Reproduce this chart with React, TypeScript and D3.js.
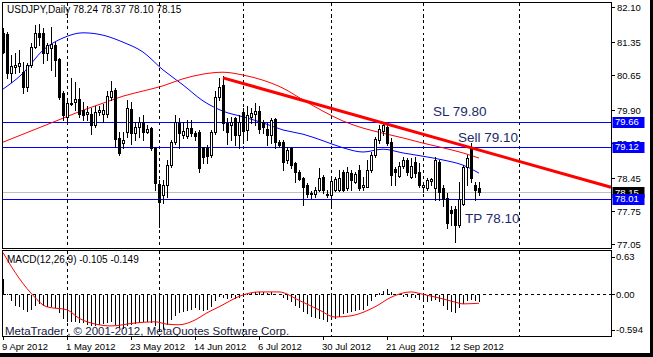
import React from "react";
import * as d3 from "d3";

// ---------- DATA ----------
const opens = [
  81.54, 81.52, 80.69, 80.83, 80.84, 80.72, 80.40, 80.86, 81.24, 81.54,
  81.54, 81.13, 81.22, 81.29, 80.99, 80.26, 79.76, 80.03, 80.08, 80.15,
  79.91, 79.83, 79.83, 79.59, 79.87, 79.83, 79.83, 80.18, 80.33, 79.30,
  79.20, 79.44, 79.92, 79.42, 79.55, 79.66, 79.44, 79.53, 79.09, 78.33,
  78.09, 78.31, 78.73, 79.23, 79.62, 79.37, 79.35, 79.53, 79.42, 79.44,
  79.11, 79.09, 78.95, 79.44, 80.19, 80.44, 79.62, 79.59, 79.73, 79.37,
  79.87, 79.48, 79.76, 79.82, 79.89, 79.66, 79.51, 79.37, 79.71, 79.23,
  79.23, 78.83, 79.09, 78.78, 78.59, 78.45, 78.31, 78.14, 78.11, 78.20,
  78.47, 78.11, 78.09, 78.21, 78.20, 78.59, 78.24, 78.57, 78.38, 78.63,
  78.27, 78.27, 78.63, 78.95, 79.27, 79.45, 79.55, 79.23, 78.64, 78.50,
  78.71, 78.85, 78.48, 78.80, 78.59, 78.27, 78.24, 78.39, 78.24, 78.80,
  78.24, 78.02, 77.77, 77.80, 77.45, 77.91, 78.70, 79.07, 78.31, 78.24,
];
const highs = [
  81.66, 81.56, 81.08, 81.11, 81.18, 80.93, 80.90, 81.33, 81.72, 81.74,
  81.65, 81.34, 81.68, 81.36, 81.01, 80.30, 80.12, 80.58, 80.51, 80.37,
  80.08, 79.98, 79.94, 79.98, 79.98, 80.03, 80.30, 80.52, 80.37, 79.44,
  79.44, 80.12, 80.08, 79.66, 79.76, 79.80, 79.59, 79.55, 79.12, 78.41,
  78.41, 78.84, 79.27, 79.80, 79.73, 79.66, 79.69, 79.69, 79.46, 79.48,
  79.12, 79.15, 79.48, 80.30, 80.58, 80.62, 79.73, 79.76, 79.76, 79.80,
  79.95, 79.98, 79.94, 80.06, 79.98, 79.69, 79.62, 79.73, 79.73, 79.27,
  79.27, 79.12, 79.12, 78.80, 78.63, 78.47, 78.34, 78.17, 78.27, 78.66,
  78.52, 78.20, 78.47, 78.47, 78.63, 78.63, 78.70, 78.63, 78.59, 78.73,
  78.48, 78.84, 79.02, 79.34, 79.59, 79.66, 79.62, 79.30, 78.70, 78.80,
  78.91, 78.88, 78.88, 78.91, 78.77, 78.38, 78.45, 78.45, 78.91, 78.84,
  78.31, 78.13, 77.85, 77.85, 78.38, 78.73, 78.95, 79.21, 78.38, 78.37,
];
const lows = [
  81.12, 80.58, 80.51, 80.69, 80.72, 80.26, 80.30, 80.83, 81.22, 81.29,
  80.90, 80.97, 80.76, 80.62, 80.15, 79.69, 79.66, 80.01, 79.91, 79.76,
  79.69, 79.69, 79.39, 79.55, 79.80, 79.66, 79.76, 80.12, 79.12, 78.95,
  79.09, 79.34, 79.19, 79.27, 79.34, 79.27, 79.41, 79.05, 78.20, 77.42,
  77.92, 78.06, 78.70, 79.19, 79.09, 79.30, 79.30, 79.35, 79.27, 78.59,
  78.77, 78.77, 78.90, 79.40, 80.12, 79.48, 79.19, 79.27, 79.16, 79.09,
  79.20, 79.27, 79.62, 79.59, 79.41, 79.41, 79.16, 79.20, 79.09, 79.12,
  78.63, 78.77, 78.66, 78.38, 78.41, 77.88, 78.06, 78.04, 78.06, 78.17,
  78.13, 78.06, 77.81, 78.17, 78.17, 78.17, 78.20, 78.20, 78.34, 78.20,
  78.20, 78.27, 78.59, 78.91, 79.20, 79.37, 79.16, 78.31, 78.31, 78.48,
  78.66, 78.52, 78.45, 78.48, 78.27, 78.16, 78.20, 78.31, 77.99, 77.99,
  77.85, 77.40, 77.45, 77.10, 77.42, 77.88, 78.31, 78.38, 77.99, 78.10,
];
const closes = [
  81.15, 80.69, 80.84, 80.86, 80.90, 80.40, 80.86, 81.24, 81.55, 81.47,
  81.11, 81.29, 81.32, 80.97, 80.19, 79.80, 80.05, 80.06, 80.15, 79.83,
  79.80, 79.87, 79.59, 79.87, 79.90, 79.91, 80.20, 80.30, 79.28, 78.98,
  79.27, 79.94, 79.41, 79.55, 79.66, 79.44, 79.51, 79.09, 78.34, 77.95,
  78.31, 78.73, 79.23, 79.64, 79.42, 79.46, 79.53, 79.41, 79.35, 78.66,
  78.91, 78.92, 79.44, 80.19, 80.40, 79.62, 79.44, 79.66, 79.37, 79.66,
  79.46, 79.80, 79.85, 79.89, 79.51, 79.55, 79.37, 79.69, 79.23, 79.16,
  78.80, 79.05, 78.73, 78.59, 78.43, 78.26, 78.12, 78.11, 78.21, 78.45,
  78.19, 78.09, 78.40, 78.43, 78.45, 78.21, 78.59, 78.41, 78.55, 78.24,
  78.31, 78.63, 78.95, 79.28, 79.51, 79.59, 79.20, 78.52, 78.59, 78.71,
  78.85, 78.59, 78.71, 78.56, 78.31, 78.31, 78.41, 78.44, 78.85, 78.16,
  78.00, 77.50, 77.72, 77.45, 78.00, 78.70, 78.88, 78.45, 78.20, 78.15,
];

// moving averages, read at sampled bars
const maIndex = [0, 5, 10, 15, 20, 25, 30, 35, 40, 45, 50, 55, 60, 65, 70, 75, 80, 85, 90, 95, 100, 105, 110, 115, 119];
const maBlue = [80.35, 80.69, 81.18, 81.44, 81.55, 81.50, 81.35, 81.14, 80.76, 80.44, 80.10, 79.88, 79.76, 79.63, 79.48, 79.39, 79.25, 79.10, 79.01, 79.07, 78.99, 78.92, 78.84, 78.73, 78.56];
const maRed = [79.22, 79.39, 79.56, 79.73, 79.90, 80.05, 80.20, 80.31, 80.42, 80.57, 80.67, 80.71, 80.65, 80.54, 80.37, 80.12, 79.88, 79.67, 79.52, 79.41, 79.31, 79.20, 79.10, 78.99, 78.88];

// MACD main (histogram) per bar
const macdMain = [
  0.27, 0.03, -0.10, -0.18, -0.20, -0.24, -0.28, -0.25, -0.18, -0.15,
  -0.18, -0.20, -0.20, -0.22, -0.30, -0.40, -0.45, -0.45, -0.44, -0.46,
  -0.47, -0.50, -0.52, -0.52, -0.50, -0.48, -0.46, -0.44, -0.50, -0.55,
  -0.56, -0.52, -0.50, -0.48, -0.46, -0.45, -0.44, -0.46, -0.52, -0.58,
  -0.56, -0.50, -0.42, -0.34, -0.30, -0.28, -0.26, -0.24, -0.22, -0.24,
  -0.26, -0.24, -0.20, -0.10, -0.02, -0.04, -0.06, -0.05, -0.06, -0.05,
  -0.02, 0.02, 0.04, 0.06, 0.05, 0.05, 0.04, 0.05, 0.03, 0.01,
  -0.05, -0.08, -0.12, -0.18, -0.22, -0.28, -0.32, -0.36, -0.38, -0.40,
  -0.42, -0.44, -0.42, -0.40, -0.36, -0.32, -0.30, -0.28, -0.26, -0.25,
  -0.24, -0.18, -0.10, -0.03, 0.04, 0.08, 0.10, 0.05, 0.02, 0.00,
  -0.02, -0.03, -0.05, -0.05, -0.08, -0.10, -0.12, -0.10, -0.08, -0.12,
  -0.18, -0.24, -0.28, -0.30, -0.22, -0.14, -0.10, -0.08, -0.10, -0.105,
];
const signalIndex = [0, 3, 7, 11, 16, 19, 24, 27, 33, 38, 41, 44, 48, 51, 54, 60, 64, 69, 74, 79, 83, 87, 93, 97, 102, 105, 109, 113, 115, 119];
const signalValues = [0.70, 0.37, 0.02, -0.21, -0.26, -0.40, -0.51, -0.53, -0.48, -0.46, -0.50, -0.51, -0.43, -0.31, -0.21, -0.01, 0.04, 0.04, -0.10, -0.26, -0.38, -0.36, -0.21, -0.05, 0.04, 0.00, -0.06, -0.13, -0.16, -0.149];

const priceTicks = [82.10, 81.35, 80.65, 79.90, 79.20, 78.45, 77.75, 77.05];
const macdTicks = [0.63, 0.0, -0.594];
const dateLabels = ["9 Apr 2012", "1 May 2012", "23 May 2012", "14 Jun 2012", "6 Jul 2012", "30 Jul 2012", "21 Aug 2012", "12 Sep 2012"];
const dateIndex = [0, 16, 32, 48, 64, 80, 96, 112];
const gridIndex = [16, 39, 60, 82, 105, 129];
const levelLines = [79.66, 79.12, 78.01];
const bidPrice = 78.15;
const trendIndex = [55, 152];
const trendPrice = [80.59, 78.26];
const noteLabels = ["SL 79.80", "Sell 79.10", "TP 78.10"];
const noteIndex = [107.5, 113.75, 115.5];
const notePrice = [79.77, 79.22, 77.50];
const titleText = "USDJPY,Daily  78.24 78.37 78.10 78.15";
const macdTitle = "MACD(12,26,9) -0.105 -0.149";
const copyright = "MetaTrader , © 2001-2012, MetaQuotes Software Corp.";

// ---------- LAYOUT ----------
const W = 653, H = 357;
const L = 2.5, R = 611.5;
const mainTop = 2.5, mainBot = 248.5;
const macdTop = 250.5, macdBot = 336.5;
const FONT = "'Liberation Sans', Arial, sans-serif";
const NOTE = "#1c2a6a";

export default function App() {
  const x = d3.scaleLinear().domain([0, 119]).range([3, 479]);
  const y = d3.scaleLinear().domain([77.05, 82.10]).range([244, 7]);
  const m = d3.scaleLinear().domain([-0.594, 0.63]).range([329.8, 256.7]);

  const maLine = d3
    .line<number>()
    .x((_, k) => x(maIndex[k]))
    .y((v) => y(v))
    .curve(d3.curveMonotoneX);
  const sigLine = d3
    .line<number>()
    .x((_, k) => x(signalIndex[k]))
    .y((v) => m(v))
    .curve(d3.curveMonotoneX);
  const trend = d3
    .line<number>()
    .x((_, k) => x(trendIndex[k]))
    .y((v) => y(v));

  const zeroY = Math.round(m(0)) + 0.5;
  // hidden tick under the 79.12 marker: only draw the part above the box
  const boxes = [levelLines[0], levelLines[1], bidPrice, levelLines[2]];

  return (
    <svg
      width={W}
      height={H}
      style={{ position: "fixed", left: 0, top: 0, background: "#fff" }}
      fontFamily={FONT}
    >
      <defs>
        <clipPath id="mainClip">
          <rect x={L} y={mainTop} width={R - L} height={mainBot - mainTop} />
        </clipPath>
        <clipPath id="macdClip">
          <rect x={L} y={macdTop} width={R - L} height={macdBot - macdTop} />
        </clipPath>
      </defs>
      <rect x={0} y={0} width={W} height={H} fill="#fff" />

      {/* grid verticals */}
      <g stroke="#000" strokeDasharray="3,3" shapeRendering="crispEdges">
        {gridIndex.map((g) => (
          <g key={g}>
            <line x1={Math.round(x(g)) + 0.5} x2={Math.round(x(g)) + 0.5} y1={mainTop} y2={mainBot} />
            <line x1={Math.round(x(g)) + 0.5} x2={Math.round(x(g)) + 0.5} y1={macdTop} y2={macdBot} />
          </g>
        ))}
      </g>

      {/* main panel */}
      <g clipPath="url(#mainClip)">
        <line x1={L} x2={R} y1={Math.round(y(bidPrice)) + 0.5} y2={Math.round(y(bidPrice)) + 0.5} stroke="#c0c0c0" shapeRendering="crispEdges" />
        {levelLines.map((p) => (
          <line key={p} x1={L} x2={R} y1={Math.round(y(p)) + 0.5} y2={Math.round(y(p)) + 0.5} stroke="#0000ff" strokeWidth={1} shapeRendering="crispEdges" />
        ))}
        <path d={maLine(maBlue) || ""} fill="none" stroke="#0000ff" strokeWidth={1} />
        <path d={maLine(maRed) || ""} fill="none" stroke="#ff0000" strokeWidth={1} />
        <g shapeRendering="crispEdges">
          {closes.map((c, i) => {
            const o = opens[i];
            const cx = Math.round(x(i));
            const yo = Math.round(y(o));
            const yc = Math.round(y(c));
            const bull = c >= o;
            return (
              <g key={i}>
                <line x1={cx + 0.5} x2={cx + 0.5} y1={Math.round(y(highs[i]))} y2={Math.round(y(lows[i])) + 1} stroke="#000" />
                {bull ? (
                  <rect x={cx - 0.5} y={yc + 0.5} width={2} height={Math.max(yo - yc, 1)} fill="#fff" stroke="#000" />
                ) : (
                  <rect x={cx - 1} y={yo} width={3} height={Math.max(yc - yo, 1) + 1} fill="#000" />
                )}
              </g>
            );
          })}
        </g>
        <path d={trend(trendPrice) || ""} fill="none" stroke="#ff0000" strokeWidth={3} />
        {noteLabels.map((t, k) => (
          <text key={t} x={x(noteIndex[k])} y={y(notePrice[k])} fontSize={13.5} fill={NOTE}>
            {t}
          </text>
        ))}
        <text x={7} y={13} fontSize={10} fill="#000">
          {titleText}
        </text>
      </g>

      {/* MACD panel */}
      <g clipPath="url(#macdClip)">
        <line x1={L} x2={R} y1={zeroY} y2={zeroY} stroke="#000" strokeDasharray="3,3" shapeRendering="crispEdges" />
        <g stroke="#000" shapeRendering="crispEdges">
          {macdMain.map((v, i) => (
            <line key={i} x1={Math.round(x(i)) + 0.5} x2={Math.round(x(i)) + 0.5} y1={zeroY} y2={Math.round(m(v)) + 0.5} />
          ))}
        </g>
        <path d={sigLine(signalValues) || ""} fill="none" stroke="#ff0000" strokeWidth={1} />
        <text x={7} y={263} fontSize={10} fill="#000">
          {macdTitle}
        </text>
        <text x={5} y={334.5} fontSize={11.5} fill="#1a1a40">
          {copyright}
        </text>
      </g>

      {/* frames */}
      <g fill="none" stroke="#000" shapeRendering="crispEdges">
        <rect x={L} y={mainTop} width={R - L} height={mainBot - mainTop} />
        <rect x={L} y={macdTop} width={R - L} height={macdBot - macdTop} />
      </g>

      {/* price axis */}
      <g fontSize={9.5} fill="#000">
        {priceTicks.map((p) => (
          <g key={p}>
            <line x1={R} x2={R + 3} y1={Math.round(y(p)) + 0.5} y2={Math.round(y(p)) + 0.5} stroke="#000" shapeRendering="crispEdges" />
            <text x={617} y={y(p) + 3.5}>{p.toFixed(2)}</text>
          </g>
        ))}
        {boxes.map((p) => {
          const isBid = p === bidPrice;
          return (
            <g key={"b" + p}>
              <rect x={612.5} y={Math.round(y(p)) - 5} width={32} height={11} fill={isBid ? "#000" : "#0000ff"} />
              <text x={615} y={y(p) + 3.5} fill="#fff">{p.toFixed(2)}</text>
            </g>
          );
        })}
        {macdTicks.map((v) => (
          <g key={"m" + v}>
            <line x1={R} x2={R + 3} y1={Math.round(m(v)) + 0.5} y2={Math.round(m(v)) + 0.5} stroke="#000" shapeRendering="crispEdges" />
            <text x={616} y={m(v) + 3.5}>{v === 0 ? "0.00" : String(v)}</text>
          </g>
        ))}
      </g>

      {/* date axis */}
      <g fontSize={9.5} fill="#000">
        {dateIndex.map((d, k) => (
          <g key={d}>
            <line x1={Math.round(x(d)) + 0.5} x2={Math.round(x(d)) + 0.5} y1={macdBot} y2={macdBot + 3} stroke="#000" shapeRendering="crispEdges" />
            <text x={x(d) - 1} y={349.5}>{dateLabels[k]}</text>
          </g>
        ))}
      </g>

      {/* outer dark frame */}
      <rect x={650} y={0} width={3} height={H} fill="#000" />
      <rect x={0} y={353} width={W} height={4} fill="#000" />
    </svg>
  );
}
